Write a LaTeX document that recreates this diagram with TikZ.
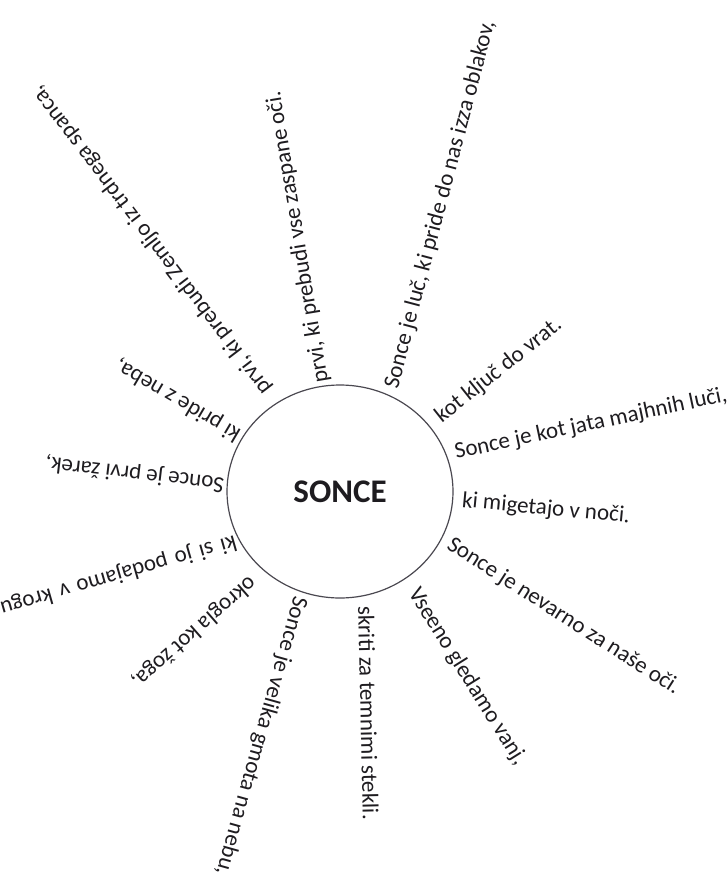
\documentclass[tikz,border=0pt]{standalone}
\usepackage{fontspec}
\setmainfont{Carlito}
\usetikzlibrary{shapes.geometric}
\definecolor{ink}{HTML}{1E1C20}
\definecolor{rim}{HTML}{4A4850}
\tikzset{
  ray/.style={anchor=west, inner sep=0pt, text=ink, font=\fontsize{23}{27}\selectfont},
  sunbox/.style={ellipse, draw=rim, line width=1.2pt, minimum width=226pt, minimum height=213pt, inner sep=0pt, text=ink, font=\fontsize{33}{40}\selectfont\bfseries}
}
\begin{document}
\begin{tikzpicture}[x=1pt,y=-1pt]
\useasboundingbox (0,0) rectangle (728,878);
\fill[white] (0,0) rectangle (728,878);
\node[sunbox] (sun) at (340,491.5) {SONCE};
\node[ray, rotate=75.2] (t1) at (392,388) {Sonce je luč, ki pride do nas izza oblakov,};
\node[ray, rotate=38.5] (t2) at (438,419) {kot ključ do vrat.};
\node[ray, rotate=12] (t3) at (455,453) {Sonce je kot jata majhnih luči,};
\node[ray, rotate=-5.4] (t4) at (462,501) {ki migetajo v noči.};
\node[ray, rotate=-32.7] (t5) at (449,543) {Sonce je nevarno za naše oči.};
\node[ray, rotate=-58] (t6) at (413,590) {Vseeno gledamo vanj,};
\node[ray, rotate=-88.7] (t7) at (366,606) {skriti za temnimi stekli.};
\node[ray, rotate=-105.7] (t8) at (300,597) {Sonce je velika gmota na nebu,};
\node[ray, rotate=-138.8] (t9) at (253,580) {okrogla kot žoga,};
\node[ray, rotate=-164] (t10) at (236,541) {\spaceskip=7.8pt\relax ki si jo podajamo v krogu};
\node[ray, rotate=173.3] (t11) at (224,484) {Sonce je prvi žarek,};
\node[ray, rotate=149.5] (t12) at (239,436) {ki pride z neba,};
\node[ray, rotate=127.3] (t13) at (267,392) {prvi, ki prebudi Zemljo iz trdnega spanca,};
\node[ray, rotate=99.4] (t14) at (322,383) {prvi, ki prebudi vse zaspane oči.};
\end{tikzpicture}
\end{document}
